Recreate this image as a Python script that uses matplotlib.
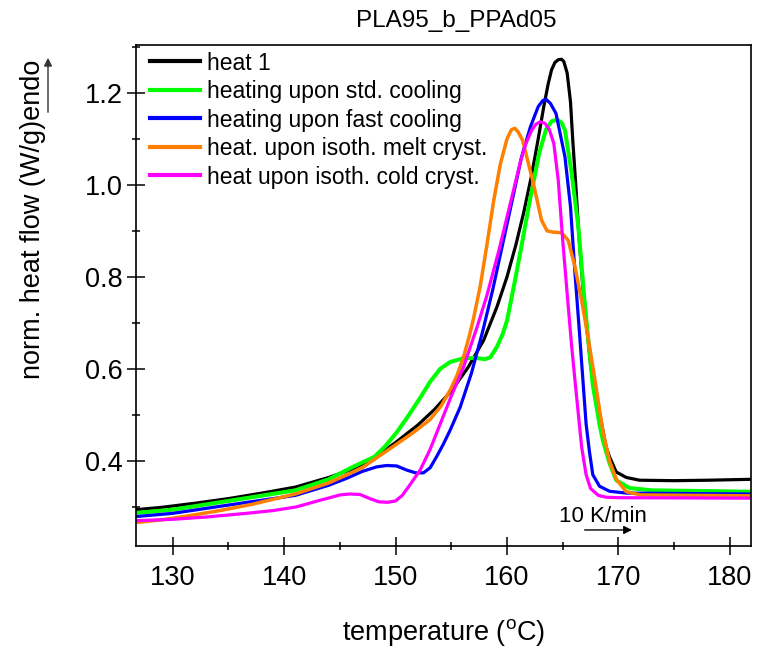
import matplotlib
matplotlib.use("Agg")
import matplotlib.pyplot as plt
from matplotlib.ticker import MultipleLocator

plt.rcParams['font.family'] = ['Liberation Sans', 'DejaVu Sans']
plt.rcParams['mathtext.fontset'] = 'custom'
plt.rcParams['mathtext.rm'] = 'Liberation Sans'
plt.rcParams['mathtext.it'] = 'Liberation Sans:italic'

title = "PLA95_b_PPAd05"
labels = ["heat 1", "heating upon std. cooling", "heating upon fast cooling",
          "heat. upon isoth. melt cryst.", "heat upon isoth. cold cryst."]
colors = ["#000000", "#00FF00", "#0000FF", "#FF7F00", "#FF00FF"]

heat1_T = [126.7, 129, 132, 135, 138, 141, 144, 146, 148, 150, 152, 153.5, 155, 156.5, 157.9,
           159.1, 160.0, 160.8, 161.5, 162.2, 162.8, 163.3, 163.7, 164.0, 164.3, 164.6, 164.9,
           165.1, 165.4, 165.7, 165.9, 166.2, 166.4, 166.8, 167.1, 167.5, 167.7, 168.3, 168.9,
           169.2, 169.8, 170.7, 171.9, 175, 178, 182]
heat1_y = [0.294, 0.299, 0.308, 0.318, 0.330, 0.343, 0.364, 0.381, 0.405, 0.440, 0.478, 0.512,
           0.552, 0.603, 0.662, 0.735, 0.800, 0.870, 0.940, 1.020, 1.100, 1.170, 1.220, 1.250,
           1.266, 1.272, 1.273, 1.268, 1.243, 1.180, 1.098, 0.990, 0.908, 0.780, 0.705, 0.610,
           0.575, 0.504, 0.430, 0.409, 0.376, 0.364, 0.358, 0.357, 0.358, 0.360]

std_T = [126.7, 130, 135, 141, 144, 146, 148.1, 149, 150.1, 151.2, 152.2, 153.1, 154.0, 154.9,
         156.1, 157.2, 158.0, 158.5, 159.1, 159.6, 160.0, 160.7, 161.4, 162.0, 162.9, 163.5,
         164.0, 164.5, 164.9, 165.2, 165.8, 166.4, 167.0, 167.7, 168.3, 168.6, 169.2, 169.8,
         171.0, 173, 182]
std_y = [0.287, 0.294, 0.313, 0.336, 0.360, 0.385, 0.409, 0.430, 0.462, 0.500, 0.537, 0.572,
         0.600, 0.615, 0.623, 0.624, 0.621, 0.625, 0.648, 0.675, 0.705, 0.790, 0.880, 0.960,
         1.070, 1.120, 1.138, 1.142, 1.135, 1.119, 1.025, 0.909, 0.735, 0.565, 0.480, 0.445,
         0.395, 0.358, 0.341, 0.336, 0.333]

fast_T = [126.7, 130, 135, 141, 144, 145.6, 147, 148.3, 149.2, 150.1, 151.0, 151.8, 152.5,
          153.1, 153.7, 154.3, 154.9, 155.8, 156.8, 157.8, 158.7, 159.6, 160.5, 161.3, 162.1,
          162.8, 163.2, 163.5, 163.9, 164.4, 165.2, 165.7, 166.1, 166.5, 166.8, 167.1, 167.4,
          167.7, 168.3, 169.2, 170.7, 182]
fast_y = [0.279, 0.286, 0.304, 0.325, 0.347, 0.362, 0.377, 0.387, 0.390, 0.389, 0.380, 0.374,
          0.374, 0.385, 0.410, 0.437, 0.467, 0.517, 0.590, 0.680, 0.770, 0.870, 0.970, 1.060,
          1.126, 1.170, 1.183, 1.186, 1.177, 1.155, 1.061, 0.952, 0.808, 0.680, 0.580, 0.480,
          0.420, 0.370, 0.345, 0.334, 0.330, 0.328]

melt_T = [126.7, 129, 131, 134, 137, 141, 144, 147, 148.2, 150, 151.5, 153.1, 154.1, 154.9,
          155.5, 156.1, 156.6, 157.0, 157.6, 158.2, 158.8, 159.4, 160.0, 160.4, 160.7, 161.0,
          161.4, 162.3, 163.1, 163.6, 164.2, 164.9, 165.5, 166.1, 166.8, 167.4, 167.9, 168.6,
          169.2, 169.8, 170.7, 172, 182]
melt_y = [0.266, 0.272, 0.279, 0.291, 0.305, 0.328, 0.352, 0.385, 0.405, 0.435, 0.460, 0.490,
          0.520, 0.554, 0.585, 0.626, 0.670, 0.710, 0.780, 0.870, 0.965, 1.045, 1.100, 1.120,
          1.123, 1.115, 1.097, 1.010, 0.923, 0.900, 0.897, 0.896, 0.879, 0.822, 0.735, 0.650,
          0.575, 0.465, 0.400, 0.360, 0.333, 0.326, 0.324]

cold_T = [126.7, 130, 133, 136.6, 139, 141.1, 143, 144.1, 145.0, 145.9, 146.8, 147.7, 148.5,
          149.3, 150.0, 150.6, 151.2, 152.2, 153.1, 154.0, 154.9, 156.1, 157.3, 158.2, 159.3,
          160.5, 161.2, 161.7, 162.2, 162.6, 163.0, 163.4, 163.8, 164.2, 164.6, 165.0, 165.5,
          165.8, 166.1, 166.7, 167.1, 167.5, 168.2, 168.9, 170, 182]
cold_y = [0.270, 0.273, 0.278, 0.286, 0.292, 0.300, 0.313, 0.320, 0.326, 0.328, 0.327, 0.318,
          0.311, 0.310, 0.313, 0.325, 0.345, 0.380, 0.425, 0.480, 0.535, 0.604, 0.690, 0.760,
          0.860, 0.980, 1.050, 1.090, 1.118, 1.132, 1.137, 1.134, 1.120, 1.090, 1.010, 0.879,
          0.735, 0.650, 0.575, 0.430, 0.370, 0.340, 0.325, 0.321, 0.320, 0.319]

series = [(heat1_T, heat1_y), (std_T, std_y), (fast_T, fast_y), (melt_T, melt_y), (cold_T, cold_y)]
widths = [2.3, 2.9, 2.3, 2.5, 2.3]

fig = plt.figure(figsize=(7.67, 6.5), dpi=100)
ax = fig.add_axes([136/767, 1-546/650, (751-136)/767, (546-45)/650])

for (T, y), lab, c, lw in zip(series, labels, colors, widths):
    ax.plot(T, y, color=c, lw=lw, label=lab, solid_joinstyle='round')

ax.set_xlim(126.7, 181.9)
ax.set_ylim(0.215, 1.304)
ax.xaxis.set_major_locator(MultipleLocator(10))
ax.xaxis.set_minor_locator(MultipleLocator(5))
ax.yaxis.set_major_locator(MultipleLocator(0.2))
ax.yaxis.set_minor_locator(MultipleLocator(0.1))
ax.yaxis.set_major_formatter(plt.FuncFormatter(lambda v, p: f"{v:.1f}"))
ax.tick_params(which='major', direction='inout', length=13, width=1.1, labelsize=19.5,
               top=False, right=False, pad=3)
ax.tick_params(which='minor', direction='inout', length=6, width=1.1, top=False, right=False)
ax.tick_params(axis='x', which='major', pad=7)
for s in ax.spines.values():
    s.set_linewidth(1.2)

ax.set_xlabel(r"temperature ($^{\mathrm{o}}$C)", fontsize=19.5, labelpad=19)
ax.set_title(title, fontsize=17.5, pad=13, x=0.52)

fig.text(33/767, 1-219/650, "norm. heat flow (W/g)endo", rotation=90, ha='center', va='center',
         fontsize=19.5)
fig.add_artist(matplotlib.patches.FancyArrowPatch((48/767, 1-115/650), (48/767, 1-55/650),
               transform=fig.transFigure, arrowstyle='-|>', mutation_scale=12,
               color='#333333', lw=1.0))

leg = ax.legend(loc='upper left', bbox_to_anchor=(0.0228, 0.987), frameon=False,
                fontsize=16.5, handlelength=2.2, handletextpad=0.3, labelspacing=0.24,
                borderaxespad=0, borderpad=0)
for h in leg.get_lines():
    h.set_linewidth(3)

ax.text(0.759, 0.058, "10 K/min", transform=ax.transAxes, ha='center', va='center', fontsize=16)
ax.annotate("", xy=(0.811, 0.032), xytext=(0.725, 0.032), xycoords='axes fraction',
            arrowprops=dict(arrowstyle='-|>', color='black', lw=1.0, mutation_scale=12))

fig.savefig("out.png", dpi=100)
